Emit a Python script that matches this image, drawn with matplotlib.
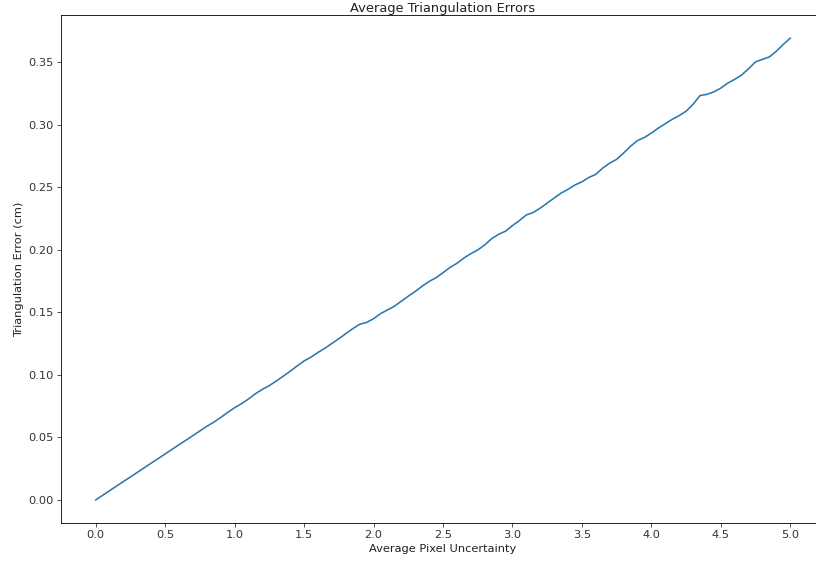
import numpy as np
import matplotlib.pyplot as plt

# Average pixel uncertainty, sampled every 0.05 from 0 to 5
pixel_uncertainty = np.linspace(0.0, 5.0, 101)

# Triangulation error (cm)
tri_error = [0.0000, 0.0037, 0.0074, 0.0111, 0.0148, 0.0184, 0.0221, 0.0258, 0.0295, 0.0331,
             0.0368, 0.0405, 0.0442, 0.0478, 0.0515, 0.0552, 0.0589, 0.0622, 0.0660, 0.0700,
             0.0738, 0.0770, 0.0808, 0.0850, 0.0885, 0.0915, 0.0952, 0.0990, 0.1030, 0.1072,
             0.1112, 0.1143, 0.1180, 0.1214, 0.1252, 0.1290, 0.1330, 0.1370, 0.1405, 0.1420,
             0.1450, 0.1490, 0.1520, 0.1550, 0.1590, 0.1630, 0.1668, 0.1710, 0.1748, 0.1778,
             0.1818, 0.1860, 0.1893, 0.1935, 0.1970, 0.2000, 0.2040, 0.2090, 0.2125, 0.2150,
             0.2195, 0.2235, 0.2280, 0.2300, 0.2335, 0.2375, 0.2415, 0.2455, 0.2485, 0.2520,
             0.2545, 0.2580, 0.2605, 0.2655, 0.2695, 0.2725, 0.2775, 0.2830, 0.2875, 0.2900,
             0.2935, 0.2975, 0.3010, 0.3045, 0.3075, 0.3110, 0.3165, 0.3235, 0.3245, 0.3265,
             0.3295, 0.3335, 0.3365, 0.3400, 0.3450, 0.3505, 0.3525, 0.3545, 0.3590, 0.3645,
             0.3695]

fs = 8.2
fig = plt.figure(figsize=(8.16, 5.67), dpi=100)
ax = fig.add_axes([0.0748, 0.0776, 0.9362, 0.8959])
ax.plot(pixel_uncertainty, tri_error, color='#2a78b0', lw=1.15)

ax.set_xticks(np.arange(0, 5.01, 0.5))
ax.set_yticks(np.arange(0, 0.351, 0.05))
ax.tick_params(labelsize=fs, length=2.6, width=0.6, pad=2.6, colors='#333333')
for s in ax.spines.values():
    s.set_linewidth(0.6)
ax.spines['right'].set_visible(False)

ax.set_xlabel('Average Pixel Uncertainty', fontsize=fs, labelpad=3, color='#222222')
ax.set_ylabel('Triangulation Error (cm)', fontsize=fs, labelpad=3, color='#222222')
ax.set_title('Average Triangulation Errors', fontsize=9.4, pad=2.5, color='#222222')

fig.savefig('out.png', dpi=100)
